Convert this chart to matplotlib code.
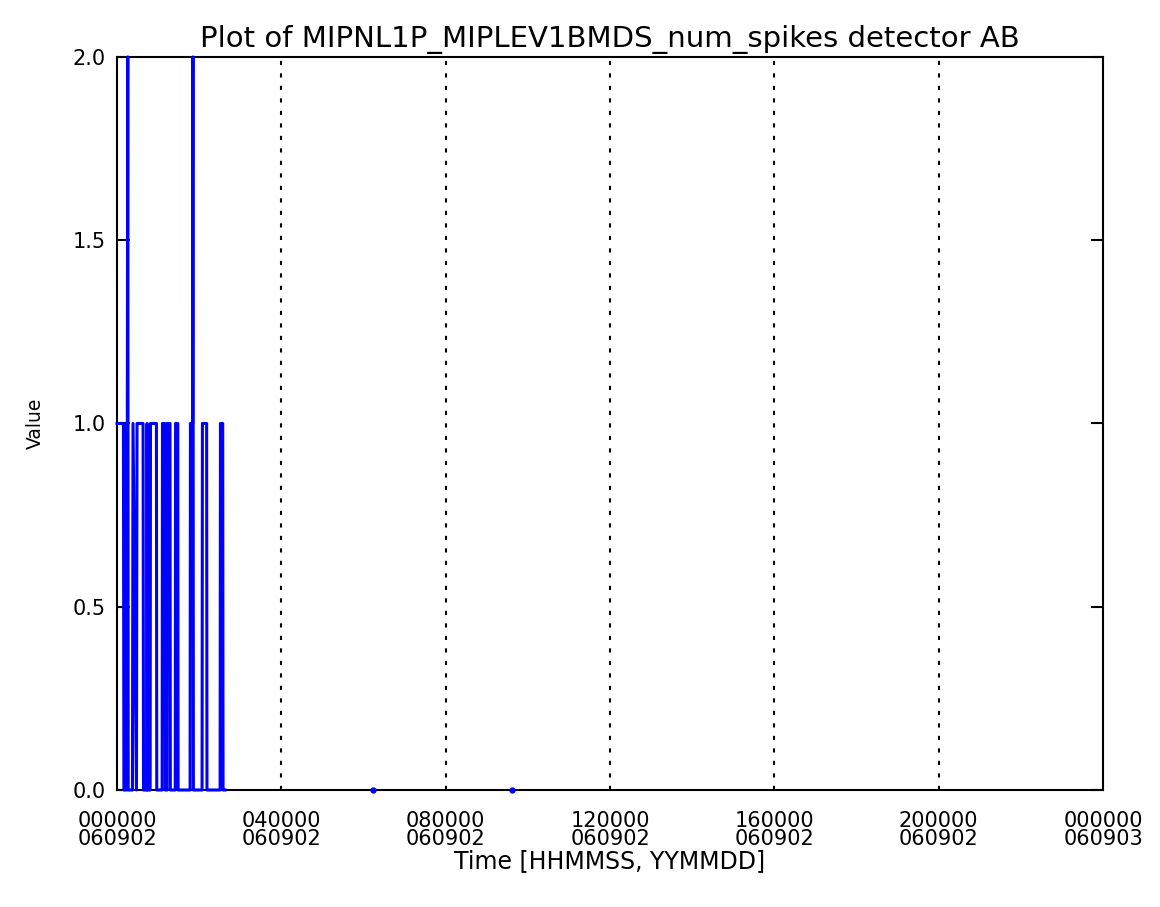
from matplotlib import pyplot as plt
import numpy as np

# spike counts, time in seconds since 2006-09-02 00:00
time_s = [0, 560, 600, 800, 830, 900, 940, 980,
          1350, 1400, 1700, 1750, 2280, 2320,
          2600, 2630, 2660,
          2900, 2930, 3450, 3480,
          3950, 3980, 4200, 4230,
          4380, 4410, 4640, 4670,
          5100, 5130, 5320, 5350,
          6400, 6430, 6620, 6650, 6690,
          7450, 7480, 7850, 7880,
          9030, 9060, 9260, 9290, 9460]
num_spikes = [1, 1, 0, 0, 1, 1, 2, 0,
              0, 1, 0, 1, 1, 0,
              0, 1, 0,
              0, 1, 1, 0,
              0, 1, 1, 0,
              0, 1, 1, 0,
              0, 1, 1, 0,
              0, 1, 1, 2, 0,
              0, 1, 1, 0,
              0, 1, 1, 0, 0]

# isolated samples later in the day
dot_time_s = [22430, 34610]
dot_values = [0, 0]

tick_pos = [0, 14400, 28800, 43200, 57600, 72000, 86400]
tick_labels = ['000000\n060902', '040000\n060902', '080000\n060902',
               '120000\n060902', '160000\n060902', '200000\n060902',
               '000000\n060903']
y_ticks = [0.0, 0.5, 1.0, 1.5, 2.0]

fig = plt.figure(figsize=(11.6, 9.07), dpi=100)
ax = fig.add_axes([0.1009, 0.129, 0.85, 0.8082])

ax.plot(time_s, num_spikes, color='#0000ff', lw=2.2, zorder=3, clip_on=False)
ax.plot(dot_time_s, dot_values, 'o', color='#0000ff', ms=3.5, zorder=3, clip_on=False)

# dotted vertical lines at the inner ticks
for t in tick_pos[1:-1]:
    ax.axvline(t, color='black', ls=(0, (2, 4)), lw=1.5)

ax.set_xlim(0, 86400)
ax.set_ylim(0, 2.0)
ax.set_xticks(tick_pos)
ax.set_xticklabels(tick_labels, fontsize=15, linespacing=0.9)
ax.set_yticks(y_ticks)
ax.set_yticklabels(['%.1f' % v for v in y_ticks], fontsize=15)
ax.tick_params(axis='y', direction='in', length=9, width=1.5, right=True, pad=8)
ax.tick_params(axis='x', length=0, pad=15)

for spine in ax.spines.values():
    spine.set_linewidth(1.5)

ax.set_title('Plot of MIPNL1P_MIPLEV1BMDS_num_spikes detector AB', fontsize=21, pad=7)
ax.set_xlabel('Time [HHMMSS, YYMMDD]', fontsize=17, labelpad=0)
ax.set_ylabel('Value', fontsize=13.5, labelpad=20)

plt.savefig('out.png', dpi=100)
